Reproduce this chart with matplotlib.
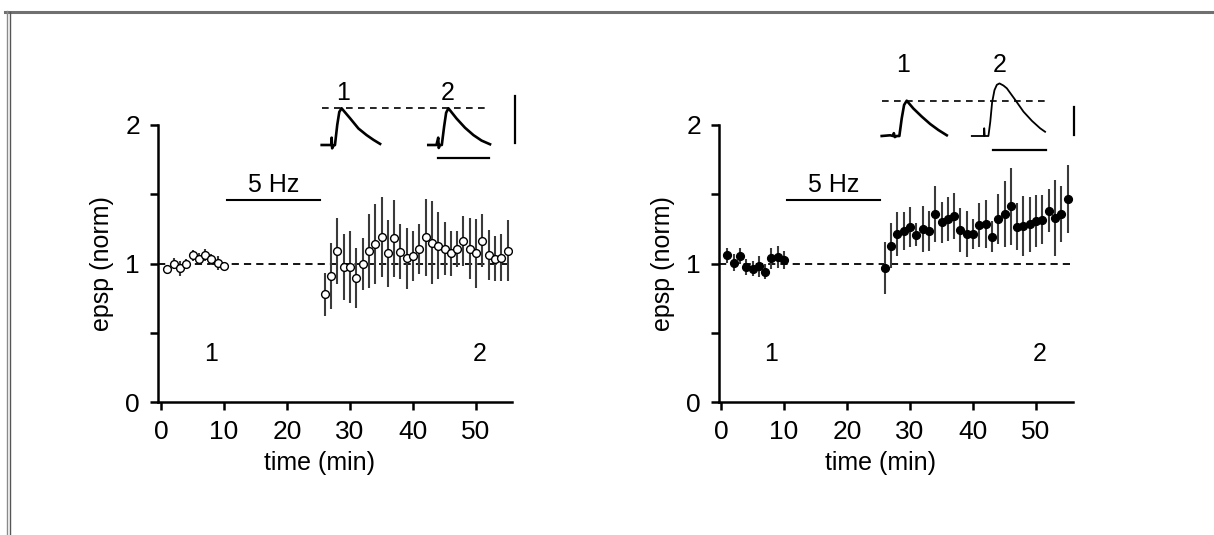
import matplotlib
matplotlib.use("Agg")
import matplotlib.pyplot as plt
from matplotlib.lines import Line2D

plt.rcParams['font.family'] = ['Liberation Sans', 'DejaVu Sans']
plt.rcParams['font.size'] = 18

# ---- time-course data (minutes, normalised epsp) ----
t_base = [1, 2, 3, 4, 5, 6, 7, 8, 9, 10]
t_post = list(range(26, 56))

ctrl_base = [0.957, 1.0, 0.964, 1.0, 1.058, 1.036, 1.06, 1.029, 1.005, 0.98]
ctrl_base_err = [0.03, 0.037, 0.054, 0.03, 0.04, 0.042, 0.045, 0.04, 0.052, 0.03]
ctrl_post = [0.778, 0.912, 1.09, 0.977, 0.977, 0.898, 0.996, 1.09, 1.139, 1.189,
             1.073, 1.182, 1.085, 1.037, 1.056, 1.107, 1.189, 1.15, 1.129, 1.107,
             1.073, 1.107, 1.165, 1.107, 1.073, 1.165, 1.061, 1.035, 1.042, 1.092]
ctrl_post_err = [0.157, 0.238, 0.236, 0.238, 0.26, 0.217, 0.19, 0.27, 0.29, 0.29,
                 0.24, 0.28, 0.20, 0.22, 0.18, 0.18, 0.28, 0.30, 0.24, 0.19,
                 0.16, 0.13, 0.18, 0.22, 0.25, 0.19, 0.18, 0.16, 0.17, 0.22]

drug_base = [1.06, 1.005, 1.053, 0.973, 0.962, 0.981, 0.94, 1.038, 1.048, 1.024]
drug_base_err = [0.055, 0.06, 0.06, 0.058, 0.055, 0.075, 0.055, 0.075, 0.08, 0.065]
drug_post = [0.968, 1.129, 1.213, 1.235, 1.261, 1.208, 1.247, 1.235, 1.357, 1.297,
             1.321, 1.345, 1.242, 1.213, 1.213, 1.28, 1.285, 1.194, 1.321, 1.357,
             1.413, 1.264, 1.273, 1.283, 1.305, 1.316, 1.381, 1.329, 1.357, 1.463]
drug_post_err = [0.19, 0.16, 0.156, 0.135, 0.144, 0.085, 0.166, 0.144, 0.2, 0.149,
                 0.156, 0.166, 0.156, 0.164, 0.106, 0.159, 0.174, 0.113, 0.18, 0.24,
                 0.28, 0.17, 0.216, 0.2, 0.187, 0.176, 0.154, 0.274, 0.2, 0.245]

stim_window = [10.5, 25.2]
x_ticks = [0, 10, 20, 30, 40, 50]
y_ticks = [0, 1, 2]

# ---- example traces (ms, amplitude normalised to control peak) ----
l_tr1_t = [0, 2.6, 3.8, 3.9, 4.1, 4.6, 5.2, 6.1, 6.9, 7.8, 11.1, 14.4, 17.6, 20.3, 22.9]
l_tr1_v = [0, 0.0, 0.0, 0.2, -0.09, -0.02, 0, 0.55, 0.9, 1.0, 0.73, 0.45, 0.27, 0.14, 0.03]
l_tr2_t = [0, 3.2, 3.9, 4.1, 4.6, 5.3, 6.2, 7.0, 7.9, 11.1, 14.4, 17.7, 20.9, 24.2]
l_tr2_v = [0, 0.0, 0.2, -0.08, 0.0, 0, 0.5, 0.88, 1.0, 0.72, 0.47, 0.27, 0.12, 0.02]
l_tr2_offset = 41.8

r_tr1_t = [0, 3.2, 4.4, 4.6, 5.0, 5.7, 6.7, 7.6, 8.5, 9.5, 12.0, 15.2, 18.4, 21.5, 24.7]
r_tr1_v = [0, 0.02, 0.0, 0.08, -0.03, 0.0, 0, 0.5, 0.88, 1.0, 0.78, 0.55, 0.34, 0.17, 0.02]
r_tr2_t = [0, 3.8, 4.6, 4.7, 4.9, 5.4, 6.3, 7.0, 7.7, 8.6, 9.5, 10.5, 12.0, 13.3, 16.5,
           19.6, 22.8, 25.9, 27.8]
r_tr2_v = [0, 0, 0.0, 0.22, 0.0, 0.0, 0.0, 0.4, 0.95, 1.3, 1.45, 1.49, 1.43, 1.35, 1.02,
           0.69, 0.43, 0.22, 0.12]
r_tr2_offset = 34.2

W, H = 1214, 535
fig = plt.figure(figsize=(W / 100, H / 100), dpi=100)


def fx(px):
    return px / W


def fy(py):
    return 1 - py / H


def time_panel(x_left, t0_px, base, base_err, post, post_err, filled, lab2_x):
    ax = fig.add_axes([fx(x_left), fy(402), 354 / W, 277 / H])
    px_per_min = 6.3
    xmin = -(t0_px - x_left) / px_per_min
    ax.set_xlim(xmin, xmin + 354 / px_per_min)
    ax.set_ylim(0, 2)
    ax.axhline(1, color='black', lw=1.3, ls=(0, (4, 2.8)), zorder=1)
    face = 'black' if filled else 'white'
    for tt, mm, ee in [(t_base, base, base_err), (t_post, post, post_err)]:
        ax.errorbar(tt, mm, yerr=ee, fmt='o', ms=5.6, mfc=face, mec='black', mew=1.0,
                    ecolor='#3a3a3a', elinewidth=1.5, capsize=0, zorder=3)
    ax.plot(stim_window, [1.455, 1.455], color='black', lw=1.5)
    ax.text(sum(stim_window) / 2, 1.57, '5 Hz', ha='center', va='center', fontsize=18)
    ax.text(8, 0.35, '1', ha='center', va='center', fontsize=18)
    ax.text(lab2_x, 0.35, '2', ha='center', va='center', fontsize=18)
    for s in ['top', 'right']:
        ax.spines[s].set_visible(False)
    for s in ['left', 'bottom']:
        ax.spines[s].set_linewidth(1.8)
    ax.set_xticks(x_ticks)
    ax.set_yticks(y_ticks)
    ax.set_yticks([0.5, 1.5], minor=True)
    ax.tick_params(which='both', direction='out', length=6, width=1.8, labelsize=19, pad=7)
    ax.tick_params(axis='x', which='minor', length=0)
    ax.set_xlabel('time (min)', fontsize=18, labelpad=5)
    ax.xaxis.label.set_x(0.455)
    ax.set_ylabel('epsp (norm)', fontsize=18, labelpad=8)
    return ax


time_panel(158, 161, ctrl_base, ctrl_base_err, ctrl_post, ctrl_post_err, False, 50.6)
time_panel(719, 721, drug_base, drug_base_err, drug_post, drug_post_err, True, 50.6)


def trace_inset(box, start_px, base_px, px_ms, px_amp, tr1, tr2, off2, lw2,
                dash_end, hbar, vbar_x, vbar, lab_y, lab_x):
    x0, x1, y0, y1 = box
    ai = fig.add_axes([fx(x0), fy(y1), (x1 - x0) / W, (y1 - y0) / H])
    ai.set_xlim((x0 - start_px) / px_ms, (x1 - start_px) / px_ms)
    ai.set_ylim(-(y1 - base_px) / px_amp, (base_px - y0) / px_amp)
    ai.axis('off')
    ai.plot([0.3, dash_end], [1, 1], color='black', lw=1.2, ls=(0, (4, 3.2)))
    ai.plot(tr1[0], tr1[1], color='black', lw=1.9, solid_joinstyle='round')
    ai.plot([t + off2 for t in tr2[0]], tr2[1], color='black', lw=lw2,
            solid_joinstyle='round')
    ai.plot(hbar[:2], [hbar[2]] * 2, color='black', lw=1.6)
    ai.plot([vbar_x] * 2, vbar, color='black', lw=1.6)
    ai.text(lab_x[0], lab_y, '1', ha='center', va='center', fontsize=18)
    ai.text(lab_x[1], lab_y, '2', ha='center', va='center', fontsize=18)


trace_inset((316, 525, 80, 165), 321.7, 145, 2.55, 36.7,
            (l_tr1_t, l_tr1_v), (l_tr2_t, l_tr2_v), l_tr2_offset, 1.9,
            65.2, (45.8, 65.8, -0.35), 75.8, (0.055, 1.335), 1.42, (8.3, 49.5))
trace_inset((876, 1085, 50, 160), 881.7, 136, 2.635, 35.3,
            (r_tr1_t, r_tr1_v), (r_tr2_t, r_tr2_v), r_tr2_offset, 1.3,
            62.7, (42.4, 62.3, -0.4), 72.8, (0.03, 0.83), 2.01, (8.2, 44.9))

# gray page frame
fig.add_artist(Line2D([fx(5), 1], [fy(11.5), fy(11.5)], color='#707070', lw=2.2))
fig.add_artist(Line2D([fx(6.5), fx(6.5)], [0, fy(11)], color='#8a8a8a', lw=1.0))
fig.add_artist(Line2D([fx(10), fx(10)], [0, fy(12)], color='#555555', lw=1.0))

fig.savefig('out.png', dpi=100)
